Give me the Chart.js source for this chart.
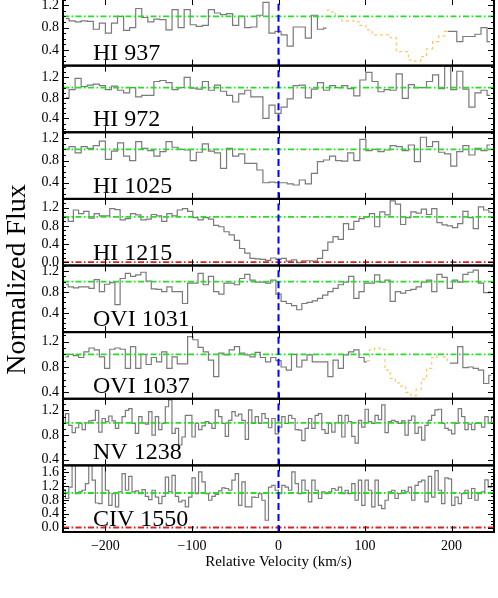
<!DOCTYPE html>
<html><head><meta charset="utf-8">
<script src="https://cdn.jsdelivr.net/npm/chart.js@4"></script>
<style>
html,body{margin:0;padding:0;background:#fff;overflow:hidden;width:498px;height:598px}
#c{position:absolute;left:0;top:-21px}
</style></head>
<body>
<canvas id="c" width="498" height="619"></canvas>
<script>
// ---------------- data ----------------
const panelNames = ['HI 937','HI 972','HI 1025','HI 1215','OVI 1031','OVI 1037','NV 1238','CIV 1550'];
const xTickValues = [-200,-100,0,100,200];
const yTickLabels = [[0.4,0.8,1.2],[0.4,0.8,1.2],[0.4,0.8,1.2],[0.0,0.4,0.8,1.2],[0.4,0.8,1.2],[0.4,0.8,1.2],[0.4,0.8,1.2],[0.0,0.4,0.8,1.2,1.6]];
const yMin = [0.12,0.13,0.11,-0.075,0.03,0.30,0.31,-0.13];
const yMax = [1.31,1.43,1.31,1.395,1.31,1.35,1.39,1.80];
// velocity grid of each spectrum (first bin centre, bin width in km/s)
const gridStart = [-245.5,-245.5,-245.5,-246,-246,-246,-248.1,-248.1];
const gridStep  = [7,7,7,6,6,6,3.846,3.846];

const hi937 = [0.96,0.92,0.90,0.92,0.91,0.77,0.88,0.70,0.88,1.00,0.75,
  0.80,1.14,0.98,0.90,0.95,0.94,0.76,1.12,0.80,1.12,
  0.85,0.82,0.84,1.12,1.06,1.03,1.05,0.84,1.00,0.80,
  0.81,1.02,1.25,0.70,0.73,0.67,0.47,0.81,0.81,0.61,
  1.02,0.77,0.79,
  null,null,null,null,null,null,null,null,null,null,null,null,null,null,null,null,null,null,null,
  0.73,0.73,0.55,0.64,0.64,0.68,0.80,0.55];
const hi937BlendStart = 43;
const hi937Blend = [1.11,1.08,1.00,0.92,0.92,0.90,0.84,0.76,0.67,0.67,0.67,0.62,0.37,0.37,0.22,0.20,0.28,0.42,0.55,0.65,0.73];

const hi972 = [0.80,0.96,1.18,1.02,1.05,1.07,1.04,0.96,1.03,0.95,0.90,
  1.00,0.82,0.85,0.85,1.12,1.14,1.10,0.96,1.00,1.20,
  0.99,0.97,1.12,0.95,1.05,0.93,0.85,0.72,0.88,0.95,
  0.82,0.82,0.40,0.66,0.50,0.62,0.78,1.04,1.05,0.80,
  0.97,1.10,0.95,1.04,1.00,1.04,0.98,0.84,1.15,1.30,
  1.12,0.92,0.96,0.95,1.27,0.79,1.06,1.00,1.00,1.12,
  1.25,0.98,1.42,0.96,1.32,0.97,0.62,0.90,0.95,0.85];

const hi1025 = [1.00,1.05,0.94,1.05,1.02,1.07,1.15,0.82,0.97,1.12,0.88,
  0.80,1.14,1.02,0.98,0.88,0.96,1.14,1.04,1.00,0.99,
  0.80,0.95,1.10,0.97,0.94,0.66,1.02,0.88,0.92,0.75,
  0.75,0.63,0.40,0.41,0.40,0.40,0.38,0.36,0.45,0.38,
  0.57,0.78,0.81,0.88,0.80,0.79,0.94,0.80,1.18,0.98,
  1.00,0.96,0.99,1.07,1.05,0.98,1.08,0.78,1.22,1.05,
  1.14,0.95,0.92,0.70,0.96,1.07,0.90,1.02,0.98,1.08];

const hi1215 = [1.00,0.90,1.15,1.07,1.12,0.97,1.07,1.02,1.02,1.18,1.16,
  0.93,0.96,1.07,1.04,0.93,0.95,1.05,1.02,0.90,1.07,
  1.02,1.15,1.18,1.12,0.98,0.93,0.98,0.95,0.81,0.78,
  0.67,0.60,0.48,0.30,0.20,0.08,0.07,0.06,0.04,0.09,
  0.06,0.08,0.02,0.05,-0.01,0.03,0.03,0.02,0.08,0.26,
  0.44,0.56,0.50,0.85,0.72,0.90,0.96,1.00,1.07,0.78,
  1.11,1.04,1.35,1.28,0.83,0.98,1.11,1.08,1.17,1.05,
  1.18,0.87,0.82,0.80,0.76,0.85,1.12,0.98,0.74,1.22,1.15,1.10];

const ovi1031 = [0.95,0.90,0.88,0.90,0.90,0.87,1.04,0.81,0.95,0.98,0.56,
  1.06,1.16,1.10,1.13,1.18,1.01,0.86,0.85,0.81,0.90,
  0.81,0.81,0.58,0.97,0.97,1.16,0.94,1.10,0.81,0.76,
  0.97,0.97,0.94,1.06,1.14,1.03,0.99,0.99,0.97,1.03,
  0.76,0.62,0.58,0.54,0.46,0.58,0.60,0.63,0.68,0.74,
  0.81,0.87,0.94,0.99,1.10,0.68,0.81,0.97,0.97,1.13,
  0.99,1.03,0.62,0.81,0.78,0.83,0.85,0.90,0.99,1.03,
  0.81,1.14,1.08,0.87,1.03,0.99,1.14,1.18,1.22,0.97,0.79,0.80];

const ovi1037 = [0.96,1.00,0.98,0.95,1.04,1.10,1.07,0.96,0.78,1.08,1.10,
  1.08,0.78,1.12,0.78,1.00,0.84,0.95,0.88,1.04,0.78,
  0.96,0.85,0.85,1.28,1.23,1.11,1.04,0.91,0.65,1.02,
  0.99,1.07,1.12,1.02,0.99,0.96,1.03,0.95,0.88,0.95,
  0.90,0.80,0.75,1.00,0.80,0.91,0.99,0.88,0.88,0.88,
  0.65,0.91,0.78,0.99,1.04,1.07,0.95,0.88,
  null,null,null,null,null,null,null,null,null,null,null,null,null,null,null,
  0.86,0.86,1.12,0.79,0.80,0.78,0.75,0.54,0.67];
const ovi1037BlendStart = 58;
const ovi1037Blend = [0.90,1.07,1.10,1.08,0.75,0.62,0.55,0.50,0.40,0.35,0.45,0.61,0.78,0.95,1.00,0.96,0.88];

const nv1238 = [0.99,
  1.15,0.96,0.84,0.92,0.99,0.89,1.00,1.03,1.04,1.20,
  0.85,1.07,1.02,1.11,1.03,0.91,1.00,1.10,1.20,1.23,
  0.99,0.83,1.10,1.00,0.98,1.18,0.80,1.10,0.89,0.99,
  1.26,1.37,0.83,0.91,0.64,0.77,1.12,1.12,0.77,0.99,
  0.89,0.95,1.02,0.99,0.91,1.21,1.10,0.99,0.78,1.04,
  1.18,1.11,1.14,1.04,0.73,
  1.21,0.99,1.10,0.99,1.15,1.07,0.92,1.07,0.82,0.93,
  1.10,0.99,1.12,1.07,0.89,0.88,0.71,0.91,1.07,0.91,
  1.12,1.15,0.89,0.83,0.99,0.85,1.00,1.12,0.77,1.12,
  1.02,0.78,0.67,1.04,0.93,1.22,1.02,0.99,1.12,1.05,
  1.29,0.84,1.02,1.04,1.02,0.99,1.03,0.80,1.04,1.11,
  0.83,0.93,0.72,0.96,1.04,1.12,1.21,1.22,0.99,0.91,
  0.88,0.82,0.99,1.23,1.10,0.89,0.98,0.89,0.99,0.99,
  0.93,1.10,0.99,1.10];

const civ1550 = [1.10,0.84,1.17,1.80,0.98,1.03,1.08,1.27,1.80,1.37,
  0.71,0.69,1.80,1.08,0.64,0.98,0.60,1.03,1.56,1.08,
  1.48,1.03,1.06,0.98,1.10,0.90,0.81,1.08,0.88,0.69,
  0.90,1.46,1.03,1.51,0.90,0.74,0.79,0.60,0.88,1.44,
  0.98,1.61,1.32,0.98,0.79,0.90,0.96,1.06,1.15,1.13,
  1.08,1.37,1.56,0.64,1.32,0.60,
  0.60,0.88,0.87,0.98,0.79,0.21,1.17,1.22,1.08,0.98,
  1.22,1.17,1.08,1.61,1.27,0.98,1.37,1.08,0.74,1.37,
  1.08,0.84,1.03,0.98,1.03,1.13,1.08,1.17,0.98,1.08,
  0.98,1.27,0.79,1.37,0.64,1.37,1.08,0.60,1.37,0.64,
  0.55,0.79,1.03,1.08,0.84,0.98,1.08,1.03,1.17,0.79,
  1.22,1.32,1.37,0.74,1.48,0.88,1.65,1.08,0.69,1.44,
  1.41,0.64,0.88,0.69,0.98,1.08,0.84,1.13,0.79,0.98,
  1.03,1.38,1.17,1.27];

const spectra = [hi937,hi972,hi1025,hi1215,ovi1031,ovi1037,nv1238,civ1550];
const blends = [{panel:0,start:hi937BlendStart,values:hi937Blend},{panel:5,start:ovi1037BlendStart,values:ovi1037Blend}];
const zeroLinePanels = [3,7];

// ---------------- build ----------------
const FONT = '"Liberation Serif","Times New Roman",serif';
Chart.defaults.font.family = FONT;
Chart.defaults.color = '#000';
const panelIds = panelNames.map((_,i)=>'y'+i);
const xmin = -249, xmax = 249;

function pts(p, values, offset) {
  return values.map((v,i)=>({x: gridStart[p] + gridStep[p]*(i+offset), y: v}));
}

const datasets = [];
const base = {pointRadius:0, borderWidth:1, tension:0, fill:false, spanGaps:false};
const dashDot = [6,2.5,1.5,2.5];
panelIds.forEach((id,p)=>{
  datasets.push(Object.assign({}, base, {yAxisID:id, data:[{x:0,y:yMin[p]},{x:0,y:yMax[p]}], borderColor:'#0000ff', borderWidth:2, borderDash:[7,4]}));
});
panelIds.forEach((id,p)=>{
  datasets.push(Object.assign({}, base, {yAxisID:id, data:[{x:xmin,y:1},{x:xmax,y:1}], borderColor:'#22e022', borderWidth:1.8, borderDash:dashDot}));
});
zeroLinePanels.forEach(p=>{
  datasets.push(Object.assign({}, base, {yAxisID:panelIds[p], data:[{x:xmin,y:0},{x:xmax,y:0}], borderColor:'#e02020', borderWidth:1.8, borderDash:dashDot}));
});
blends.forEach(b=>{
  datasets.push(Object.assign({}, base, {yAxisID:panelIds[b.panel], data:pts(b.panel,b.values,b.start), borderColor:'#ffc66e', borderWidth:1.2, borderDash:[3,3], stepped:'middle'}));
});
spectra.forEach((vals,p)=>{
  datasets.push(Object.assign({}, base, {yAxisID:panelIds[p], data:pts(p,vals,0), borderColor:'#7a7a7a', borderWidth:1.2, stepped:'middle'}));
});

const scales = {
  x: {type:'linear', position:'bottom', min:xmin, max:xmax,
      grid:{display:false, drawTicks:false}, border:{display:false},
      afterBuildTicks: s=>{ s.ticks = xTickValues.map(v=>({value:v})); },
      ticks:{padding:6, color:'#000', font:{size:14}, maxRotation:0, autoSkip:false,
             callback: v => v<0 ? '\u2212'+Math.abs(v) : String(v)},
      title:{display:true, text:'Relative Velocity (km/s)', color:'#000', font:{size:15}, padding:{top:2,bottom:27}},
      afterFit: s=>{ s.height = 66; }
  }
};
// stacked axes are laid out bottom-up, so add them from the last panel to the first
for (let p = panelIds.length-1; p >= 0; p--) {
  const id = panelIds[p];
  scales[id] = {type:'linear', position:'left', stack:'panels', stackWeight:1,
    min:yMin[p], max:yMax[p],
    grid:{display:false, drawTicks:false}, border:{display:false},
    afterBuildTicks: s=>{ s.ticks = yTickLabels[p].map(v=>({value:v})); },
    ticks:{padding:4, color:'#000', font:{size:14}, autoSkip:false, callback: v => Number(v).toFixed(1)},
    afterFit: s=>{ s.width = 63; }
  };
}

const panelPlugin = {
  id:'panels',
  beforeDatasetDraw(chart,args){
    const ds = chart.data.datasets[args.index];
    const ys = chart.scales[ds.yAxisID], ca = chart.chartArea, ctx = chart.ctx;
    ctx.save(); ctx.beginPath();
    ctx.rect(ca.left, ys.top, ca.right-ca.left, ys.bottom-ys.top);
    ctx.clip();
  },
  afterDatasetDraw(chart){ chart.ctx.restore(); },
  afterDraw(chart){
    const ctx = chart.ctx, ca = chart.chartArea, xs = chart.scales.x;
    ctx.save();
    ctx.strokeStyle = '#000';
    panelIds.forEach((id,p)=>{
      const ys = chart.scales[id];
      ctx.lineWidth = 1;
      const lo = Math.ceil(ys.min*10-1e-6), hi = Math.floor(ys.max*10+1e-6);
      ctx.beginPath();
      for(let t=lo;t<=hi;t++){
        const y = Math.round(ys.getPixelForValue(t/10))+0.5;
        const len = (t%4===0)?6:3;
        ctx.moveTo(ca.left,y); ctx.lineTo(ca.left+len,y);
        ctx.moveTo(ca.right,y); ctx.lineTo(ca.right-len,y);
      }
      xTickValues.forEach(v=>{
        const x = Math.round(xs.getPixelForValue(v))+0.5;
        ctx.moveTo(x,ys.top); ctx.lineTo(x,ys.top+6);
        ctx.moveTo(x,ys.bottom); ctx.lineTo(x,ys.bottom-6);
      });
      ctx.stroke();
      ctx.lineWidth = 2;
      ctx.strokeRect(ca.left, ys.top, ca.right-ca.left, ys.bottom-ys.top);
      ctx.fillStyle = '#000';
      ctx.font = '24px '+FONT;
      ctx.textAlign = 'left'; ctx.textBaseline = 'alphabetic';
      ctx.fillText(panelNames[p], ca.left+30, ys.bottom-6);
    });
    ctx.translate(18, (ca.top+ca.bottom)/2 + 14);
    ctx.rotate(-Math.PI/2);
    ctx.font = '28px '+FONT;
    ctx.textAlign = 'center'; ctx.textBaseline = 'middle';
    ctx.fillText('Normalized Flux', 0, 0);
    ctx.restore();
  }
};

new Chart(document.getElementById('c'), {
  type:'line',
  data:{datasets},
  options:{
    responsive:false, animation:false, events:[],
    layout:{padding:{top:20,left:0,right:4,bottom:0}},
    plugins:{legend:{display:false}, tooltip:{enabled:false}},
    scales
  },
  plugins:[panelPlugin]
});
</script>
</body></html>
